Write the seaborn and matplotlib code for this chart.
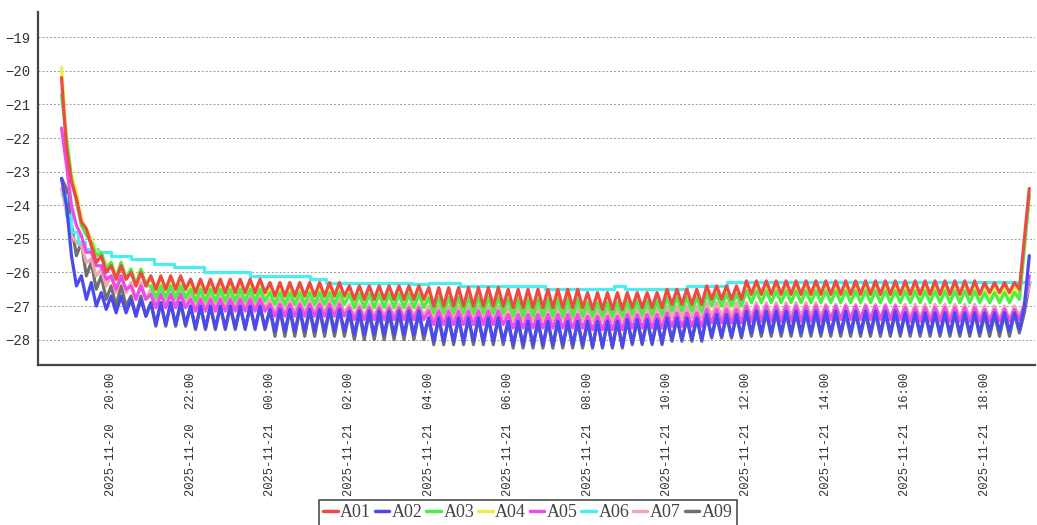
import pandas as pd
import matplotlib.pyplot as plt
import matplotlib.dates as mdates
from matplotlib.lines import Line2D
import seaborn as sns

sns.set_theme(style="white")

# sensors and their colours
sensors = ['A01', 'A02', 'A03', 'A04', 'A05', 'A06', 'A07', 'A09']
colors = ['#ee4a44', '#4a4aee', '#4aee4a', '#eeee4a', '#ee4aee', '#4aeeee', '#eeaaaa', '#707070']

# start of each reading segment (readings every 7.5 min, alternating high / low)
seg_starts = ['2025-11-20 18:45', '2025-11-20 19:00', '2025-11-20 19:15', '2025-11-20 19:30',
              '2025-11-20 19:45', '2025-11-20 20:00', '2025-11-20 20:30', '2025-11-20 21:00',
              '2025-11-20 22:00', '2025-11-21 00:00', '2025-11-21 02:00', '2025-11-21 04:00',
              '2025-11-21 06:00', '2025-11-21 08:00', '2025-11-21 09:00', '2025-11-21 10:00',
              '2025-11-21 11:00', '2025-11-21 12:00', '2025-11-21 14:00', '2025-11-21 16:00',
              '2025-11-21 18:00', '2025-11-21 18:30', '2025-11-21 18:45', '2025-11-21 19:00']
seg_end = '2025-11-21 19:15'

# first / second reading of each 15 min cycle, per segment
a01_hi = [-20.2, -23.3, -24.5, -25.2, -25.5, -25.8, -26.0, -26.1, -26.2, -26.3, -26.4, -26.45,
          -26.5, -26.6, -26.6, -26.5, -26.4, -26.25, -26.25, -26.25, -26.3, -26.3, -26.3, -25.0]
a01_lo = [-22.3, -23.8, -24.7, -25.7, -26.0, -26.2, -26.4, -26.5, -26.6, -26.7, -26.8, -27.0,
          -27.05, -27.1, -27.05, -26.95, -26.8, -26.65, -26.65, -26.65, -26.6, -26.6, -26.5, -23.5]

a02_hi = [-23.2, -25.5, -26.1, -26.3, -26.6, -26.7, -26.8, -26.9, -27.0, -27.1, -27.15, -27.35,
          -27.45, -27.45, -27.4, -27.35, -27.25, -27.15, -27.15, -27.2, -27.2, -27.2, -27.2, -27.0]
a02_lo = [-24.0, -26.4, -26.8, -27.0, -27.1, -27.2, -27.3, -27.55, -27.65, -27.75, -27.85, -28.05,
          -28.15, -28.2, -28.1, -28.0, -27.9, -27.8, -27.8, -27.8, -27.75, -27.75, -27.7, -25.5]

a03_hi = [-20.7, -23.2, -24.6, -25.1, -25.4, -25.7, -25.9, -26.4, -26.5, -26.6, -26.65, -26.75,
          -26.8, -26.9, -26.85, -26.75, -26.65, -26.55, -26.55, -26.55, -26.6, -26.6, -26.6, -25.3]
a03_lo = [-22.0, -23.9, -24.9, -25.5, -25.9, -26.2, -26.4, -26.75, -26.85, -26.95, -27.05, -27.2,
          -27.3, -27.3, -27.25, -27.15, -27.0, -26.9, -26.9, -26.9, -26.9, -26.9, -26.8, -23.7]

a04_hi = [-19.9, -23.1, -24.4, -25.0, -25.4, -25.7, -25.9, -26.2, -26.35, -26.45, -26.5, -26.6,
          -26.65, -26.75, -26.7, -26.6, -26.5, -26.4, -26.4, -26.4, -26.45, -26.45, -26.45, -25.2]
a04_lo = [-22.0, -23.6, -24.7, -25.4, -25.8, -26.1, -26.3, -26.6, -26.75, -26.85, -26.95, -27.1,
          -27.15, -27.2, -27.15, -27.05, -26.9, -26.8, -26.8, -26.8, -26.8, -26.8, -26.7, -23.7]

a05_hi = [-21.7, -24.0, -24.9, -25.4, -25.8, -26.1, -26.4, -26.65, -26.8, -26.95, -27.05, -27.15,
          -27.25, -27.3, -27.25, -27.2, -27.1, -27.0, -27.0, -27.05, -27.1, -27.1, -27.1, -27.0]
a05_lo = [-22.8, -24.6, -25.4, -25.8, -26.2, -26.5, -26.8, -27.05, -27.15, -27.3, -27.4, -27.55,
          -27.65, -27.7, -27.65, -27.6, -27.5, -27.45, -27.4, -27.45, -27.45, -27.45, -27.4, -26.1]

a07_hi = [-23.5, -24.9, -25.2, -25.6, -25.9, -26.1, -26.3, -26.5, -26.65, -26.8, -26.95, -27.0,
          -27.05, -27.1, -27.05, -27.0, -26.9, -26.9, -26.95, -26.95, -27.0, -27.0, -27.0, -26.9]
a07_lo = [-24.2, -25.1, -25.7, -26.1, -26.4, -26.6, -26.8, -26.9, -27.05, -27.2, -27.3, -27.35,
          -27.4, -27.45, -27.4, -27.35, -27.3, -27.3, -27.35, -27.35, -27.4, -27.4, -27.3, -26.4]

a09_hi = [-23.2, -24.6, -25.1, -25.7, -26.1, -26.4, -26.7, -26.9, -27.0, -27.1, -27.2, -27.35,
          -27.45, -27.45, -27.4, -27.35, -27.3, -27.2, -27.2, -27.2, -27.25, -27.25, -27.2, -27.2]
a09_lo = [-23.5, -25.5, -26.1, -26.5, -26.8, -27.0, -27.3, -27.6, -27.7, -27.9, -28.0, -28.15,
          -28.25, -28.25, -28.15, -28.05, -27.95, -27.9, -27.9, -27.9, -27.9, -27.9, -27.8, -26.35]

# A06 holds steady, logged as steps
a06_times = ['2025-11-20 18:45', '2025-11-20 18:52', '2025-11-20 19:00', '2025-11-20 19:10',
             '2025-11-20 19:20', '2025-11-20 19:40', '2025-11-20 20:00', '2025-11-20 20:30',
             '2025-11-20 21:05', '2025-11-20 21:35', '2025-11-20 22:20', '2025-11-20 23:30',
             '2025-11-21 01:00', '2025-11-21 01:25', '2025-11-21 03:35', '2025-11-21 04:00',
             '2025-11-21 04:47', '2025-11-21 06:55', '2025-11-21 08:40', '2025-11-21 08:56',
             '2025-11-21 10:30', '2025-11-21 11:30', '2025-11-21 19:08']
a06_vals = [-23.7, -24.3, -24.8, -25.1, -25.3, -25.4, -25.5, -25.6, -25.75, -25.85, -26.0, -26.1,
            -26.2, -26.3, -26.35, -26.3, -26.4, -26.5, -26.4, -26.5, -26.4, -26.28, -26.28]

series = {'A01': (a01_hi, a01_lo), 'A02': (a02_hi, a02_lo), 'A03': (a03_hi, a03_lo),
          'A04': (a04_hi, a04_lo), 'A05': (a05_hi, a05_lo), 'A07': (a07_hi, a07_lo),
          'A09': (a09_hi, a09_lo)}


def build_readings(hi, lo):
    starts = pd.to_datetime(seg_starts)
    ends = list(starts[1:]) + [pd.Timestamp(seg_end)]
    times, vals = [], []
    for s, e, h, l in zip(starts, ends, hi, lo):
        t = s
        while t < e:
            times += [t, t + pd.Timedelta(minutes=7.5)]
            vals += [h, l]
            t += pd.Timedelta(minutes=15)
    return pd.DataFrame({'time': times, 'temp': vals})


fig = plt.figure(figsize=(10.37, 5.25), dpi=100)
ax = fig.add_axes([0.037, 0.305, 0.961, 0.672])

# later sensors are drawn first, A01 ends up on top
for name, col in reversed(list(zip(sensors, colors))):
    if name == 'A06':
        d = pd.DataFrame({'time': pd.to_datetime(a06_times), 'temp': a06_vals})
        sns.lineplot(data=d, x='time', y='temp', color=col, linewidth=2.3,
                     drawstyle='steps-post', estimator=None, ax=ax)
    else:
        d = build_readings(*series[name])
        sns.lineplot(data=d, x='time', y='temp', color=col, linewidth=2.3,
                     estimator=None, ax=ax)

ax.set_xlim(pd.Timestamp('2025-11-20 18:10'), pd.Timestamp('2025-11-21 19:16'))
ax.set_ylim(-28.75, -18.25)
ax.set_yticks(range(-28, -18))
ax.set_xlabel('')
ax.set_ylabel('')

ax.xaxis.set_major_locator(mdates.HourLocator(byhour=range(0, 24, 2)))
ax.xaxis.set_major_formatter(mdates.DateFormatter('%Y-%m-%d  %H:%M'))
for lab in ax.get_xticklabels():
    lab.set_rotation(90)
    lab.set_family('Liberation Mono')
    lab.set_fontsize(8.7)
    lab.set_color('#333333')
for lab in ax.get_yticklabels():
    lab.set_family('Liberation Mono')
    lab.set_fontsize(10)
    lab.set_color('#333333')
ax.tick_params(axis='x', length=3, width=1, color='#555555', pad=3)
ax.tick_params(axis='y', length=0, pad=6)

ax.grid(axis='y', linestyle=(0, (2, 2)), color='#999999', linewidth=0.7)
ax.grid(axis='x', visible=False)
sns.despine(ax=ax)
for side in ['left', 'bottom']:
    ax.spines[side].set_color('#444444')
    ax.spines[side].set_linewidth(1.6)

handles = [Line2D([0], [0], color=c, linewidth=2.5) for c in colors]
leg = fig.legend(handles, sensors, loc='upper center', bbox_to_anchor=(0.509, 0.048),
                 ncol=8, frameon=True, fancybox=False, handlelength=0.8,
                 handletextpad=0.15, columnspacing=0.2, borderpad=0.25, borderaxespad=0,
                 prop={'family': 'Liberation Serif', 'size': 13})
leg.get_frame().set_edgecolor('#222222')
leg.get_frame().set_linewidth(1.2)
for t in leg.get_texts():
    t.set_color('#444444')

fig.savefig('out.png', dpi=100)
